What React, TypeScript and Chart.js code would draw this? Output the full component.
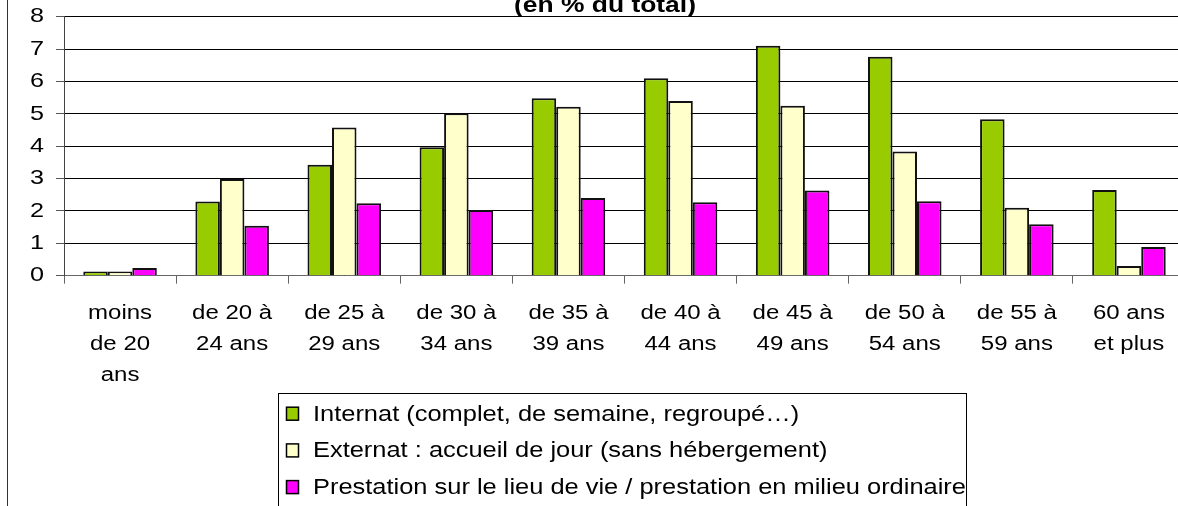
import React, { useEffect, useRef } from 'react';
import { Chart, registerables } from 'chart.js';

Chart.register(...registerables);

const TITLE = '(en % du total)';

const categories: string[][] = [
  ['moins', 'de 20', 'ans'],
  ['de 20 à', '24 ans'],
  ['de 25 à', '29 ans'],
  ['de 30 à', '34 ans'],
  ['de 35 à', '39 ans'],
  ['de 40 à', '44 ans'],
  ['de 45 à', '49 ans'],
  ['de 50 à', '54 ans'],
  ['de 55 à', '59 ans'],
  ['60 ans', 'et plus'],
];

const seriesNames = [
  'Internat (complet, de semaine, regroupé…)',
  'Externat : accueil de jour (sans hébergement)',
  'Prestation sur le lieu de vie / prestation en milieu ordinaire',
];

const internat = [0.13, 2.29, 3.43, 3.97, 5.48, 6.1, 7.1, 6.76, 4.83, 2.65];
const externat = [0.13, 2.99, 4.58, 5.02, 5.22, 5.4, 5.25, 3.84, 2.1, 0.3];
const prestation = [0.24, 1.54, 2.24, 2.03, 2.4, 2.27, 2.63, 2.3, 1.59, 0.89];

const yMin = 0;
const yMax = 8;
const yStep = 1;

const colors = ['#99CC00', '#FFFFCC', '#FF00FF'];

const FONT = "'Liberation Sans', Arial, sans-serif";
const SX = 1.2; // horizontal stretch of the reference's text

const stretchPlugin = {
  id: 'stretchText',
  beforeInit(chart: any) {
    const ctx = chart.ctx as CanvasRenderingContext2D;
    const origFill = ctx.fillText.bind(ctx);
    const origMeasure = ctx.measureText.bind(ctx);
    (ctx as any).fillText = (t: string, x: number, y: number, mw?: number) => {
      ctx.save();
      ctx.translate(x, y);
      ctx.scale(SX, 1);
      if (mw !== undefined) origFill(t, 0, 0, mw / SX);
      else origFill(t, 0, 0);
      ctx.restore();
    };
    (ctx as any).measureText = (t: string) => {
      const m = origMeasure(t);
      return {
        width: m.width * SX,
        actualBoundingBoxAscent: m.actualBoundingBoxAscent,
        actualBoundingBoxDescent: m.actualBoundingBoxDescent,
        actualBoundingBoxLeft: m.actualBoundingBoxLeft * SX,
        actualBoundingBoxRight: m.actualBoundingBoxRight * SX,
      };
    };
  },
};

const decorPlugin = {
  id: 'decor',
  afterDraw(chart: any) {
    const ctx = chart.ctx as CanvasRenderingContext2D;
    ctx.save();
    // outer chart border (left side visible)
    ctx.strokeStyle = '#333';
    ctx.lineWidth = 1;
    ctx.beginPath();
    ctx.moveTo(7.5, 0);
    ctx.lineTo(7.5, chart.height);
    ctx.stroke();

    // title (partially cut at top)
    ctx.fillStyle = '#000';
    ctx.font = `bold 22px ${FONT}`;
    ctx.textAlign = 'center';
    ctx.textBaseline = 'alphabetic';
    ctx.fillText(TITLE, 605, 11.5);

    // legend box
    ctx.strokeStyle = '#000';
    ctx.lineWidth = 1;
    ctx.strokeRect(278.5, 393.5, 688, 200);
    ctx.font = `21.2px ${FONT}`;
    ctx.textAlign = 'left';
    ctx.textBaseline = 'middle';
    chart.data.datasets.forEach((ds: any, i: number) => {
      const yc = 413.7 + i * 36.7;
      ctx.fillStyle = ds.backgroundColor;
      ctx.fillRect(286.5, yc - 6.5, 12, 13);
      ctx.lineWidth = 1.5;
      ctx.strokeStyle = '#000';
      ctx.strokeRect(286.5, yc - 6.5, 12, 13);
      ctx.fillStyle = '#000';
      ctx.fillText(ds.label, 313, yc + 1);
    });
    ctx.restore();
  },
};

export default function App() {
  const ref = useRef<HTMLCanvasElement>(null);

  useEffect(() => {
    if (!ref.current) return;
    const series = [internat, externat, prestation];
    const chart = new Chart(ref.current, {
      type: 'bar',
      data: {
        labels: categories,
        datasets: series.map((d, i) => ({
          label: seriesNames[i],
          data: d,
          backgroundColor: colors[i],
          borderColor: '#111',
          borderWidth: 2,
          barPercentage: 1,
          categoryPercentage: 0.656,
        })),
      },
      options: {
        responsive: false,
        animation: false,
        devicePixelRatio: 1,
        events: [],
        layout: { padding: { top: 16.7, right: 25, bottom: 0, left: 0 } },
        plugins: {
          legend: { display: false },
          title: { display: false },
          tooltip: { enabled: false },
        },
        scales: {
          x: {
            afterFit: (s: any) => {
              s.height = 506 - 275.7;
              s.paddingLeft = 0;
              s.paddingRight = 0;
            },
            grid: {
              display: true,
              drawOnChartArea: false,
              drawTicks: true,
              tickLength: 8,
              tickColor: '#666',
              offset: true,
            },
            border: { display: true, color: '#666', width: 1 },
            ticks: {
              color: '#000',
              padding: 14,
              maxRotation: 0,
              autoSkip: false,
              font: { family: FONT, size: 20, lineHeight: '31.3px' },
            },
          },
          y: {
            min: yMin,
            max: yMax,
            afterFit: (s: any) => {
              s.width = 64;
              s.paddingTop = 0;
              s.paddingBottom = 0;
            },
            grid: {
              color: '#000',
              lineWidth: 1,
              drawTicks: true,
              tickLength: 8,
              tickColor: '#555',
            },
            border: { display: true, color: '#444', width: 1 },
            ticks: {
              stepSize: yStep,
              color: '#000',
              padding: 12,
              font: { family: FONT, size: 21 },
            },
          },
        },
      },
      plugins: [stretchPlugin, decorPlugin],
    });
    return () => chart.destroy();
  }, []);

  return (
    <div
      style={{
        position: 'fixed',
        left: 0,
        top: 0,
        width: 1178,
        height: 506,
        overflow: 'hidden',
        background: '#fff',
      }}
    >
      <canvas ref={ref} width={1210} height={506} style={{ display: 'block', width: 1210, height: 506 }} />
    </div>
  );
}
